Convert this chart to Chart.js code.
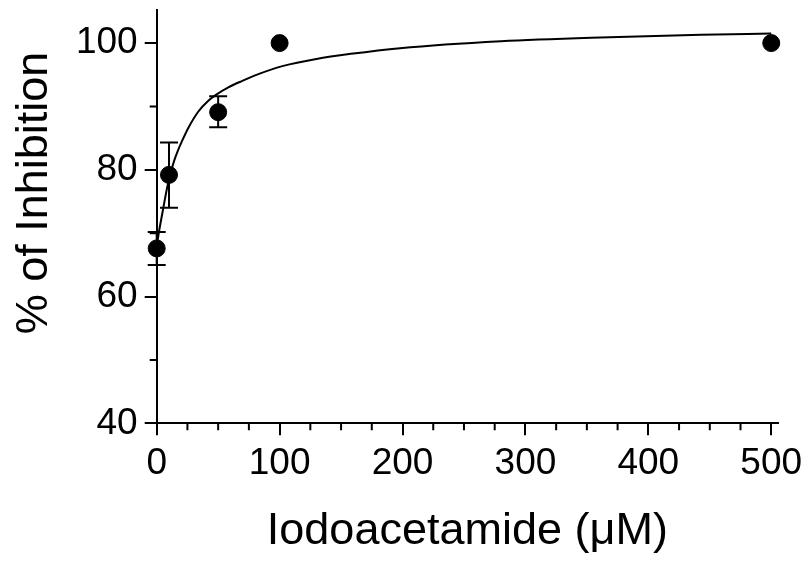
<!DOCTYPE html>
<html>
<head>
<meta charset="utf-8">
<script src="https://cdn.jsdelivr.net/npm/chart.js@4/dist/chart.umd.min.js"></script>
<style>
  html, body { margin: 0; padding: 0; background: #fff; }
  #wrap { width: 811px; height: 562px; }
</style>
</head>
<body>
<div id="wrap"><canvas id="inhibitionChart" width="811" height="562"></canvas></div>
<script>
// Measured points (mean with error bar ends)
const concentrations = [0, 10, 50, 100, 500];
const inhibition = [67.6, 79.2, 89.1, 100, 100];
const errLow = [65.0, 74.0, 86.7, null, null];
const errHigh = [70.2, 84.3, 91.6, null, null];

// Fitted curve
const curveX = [0, 2.1, 5.4, 8.6, 11.5, 14.3, 17.6, 20.3, 25.7, 33.9, 42, 48.8, 58.3, 69.2, 80, 103, 130, 158, 198, 280, 361, 443, 500];
const curveY = [68.0, 70.5, 74.0, 77.3, 79.6, 81.5, 83.2, 84.4, 86.6, 89.2, 90.9, 91.9, 93.0, 94.0, 94.9, 96.4, 97.5, 98.3, 99.2, 100.3, 100.9, 101.3, 101.5];

// Axis ticks
const xTicks = [0, 100, 200, 300, 400, 500];
const yTicks = [40, 60, 80, 100];
const xMinor = [];
for (let v = 25; v < 500; v += 25) if (v % 100 !== 0) xMinor.push(v);
const yMinor = [50, 70, 90];

const FONT = "'Liberation Sans', Arial, sans-serif";

// error bars + minor ticks + y title
const extras = {
    id: 'extras',
    afterDatasetsDraw(chart) {
        const ctx = chart.ctx;
        const xs = chart.scales.x, ys = chart.scales.y;
        ctx.save();
        ctx.strokeStyle = '#000';
        ctx.lineWidth = 2;
        concentrations.forEach((c, i) => {
            if (errLow[i] == null) return;
            const px = xs.getPixelForValue(c);
            const lo = ys.getPixelForValue(errLow[i]);
            const hi = ys.getPixelForValue(errHigh[i]);
            ctx.beginPath();
            ctx.moveTo(px, lo); ctx.lineTo(px, hi);
            ctx.moveTo(px - 9, lo); ctx.lineTo(px + 9, lo);
            ctx.moveTo(px - 9, hi); ctx.lineTo(px + 9, hi);
            ctx.stroke();
        });
        ctx.restore();
    },
    afterDraw(chart) {
        const ctx = chart.ctx;
        const xs = chart.scales.x, ys = chart.scales.y;
        const area = chart.chartArea;
        ctx.save();
        ctx.strokeStyle = '#000';
        ctx.lineWidth = 2;
        ctx.beginPath();
        xMinor.forEach(v => {
            const px = xs.getPixelForValue(v);
            ctx.moveTo(px, area.bottom); ctx.lineTo(px, area.bottom + 7);
        });
        yMinor.forEach(v => {
            const py = ys.getPixelForValue(v);
            ctx.moveTo(area.left, py); ctx.lineTo(area.left - 7, py);
        });
        ctx.stroke();

        ctx.fillStyle = '#000';
        ctx.font = '45px ' + FONT;
        ctx.textAlign = 'center';
        ctx.textBaseline = 'middle';
        ctx.translate(35, 193);
        ctx.rotate(-Math.PI / 2);
        ctx.fillText('% of Inhibition', 0, 0);
        ctx.restore();
    }
};

new Chart(document.getElementById('inhibitionChart').getContext('2d'), {
    type: 'scatter',
    data: {
        datasets: [
            {
                type: 'scatter',
                data: concentrations.map((c, i) => ({ x: c, y: inhibition[i] })),
                backgroundColor: '#000',
                borderColor: '#000',
                pointRadius: 8.5,
                pointHoverRadius: 8.5,
                clip: false,
                order: 0
            },
            {
                type: 'line',
                data: curveX.map((c, i) => ({ x: c, y: curveY[i] })),
                borderColor: '#000',
                borderWidth: 2,
                pointRadius: 0,
                fill: false,
                cubicInterpolationMode: 'monotone',
                clip: false,
                order: 1
            }
        ]
    },
    options: {
        responsive: false,
        animation: false,
        layout: { padding: { top: 9, right: 33, left: 0, bottom: 0 } },
        plugins: { legend: { display: false }, tooltip: { enabled: false } },
        scales: {
            x: {
                type: 'linear',
                min: 0,
                max: 505.5,
                afterBuildTicks: s => { s.ticks = xTicks.map(v => ({ value: v })); },
                afterFit: s => { s.height = 138.7; },
                border: { color: '#000', width: 2 },
                grid: { drawOnChartArea: false, tickLength: 12, color: '#000', lineWidth: 2 },
                ticks: { color: '#000', font: { family: FONT, size: 37 }, padding: 6, maxRotation: 0 },
                title: {
                    display: true,
                    text: 'Iodoacetamide (μM)',
                    color: '#000',
                    font: { family: FONT, size: 45, lineHeight: 1.2 },
                    padding: { top: 0, bottom: 3 }
                }
            },
            y: {
                type: 'linear',
                min: 40,
                max: 105.3,
                afterBuildTicks: s => { s.ticks = yTicks.map(v => ({ value: v })); },
                afterFit: s => { s.width = 156.7; s.paddingTop = 0; s.paddingBottom = 0; },
                border: { color: '#000', width: 2 },
                grid: { drawOnChartArea: false, tickLength: 12, color: '#000', lineWidth: 2 },
                ticks: { color: '#000', font: { family: FONT, size: 37 }, padding: 7 }
            }
        }
    },
    plugins: [extras]
});
</script>
</body>
</html>
